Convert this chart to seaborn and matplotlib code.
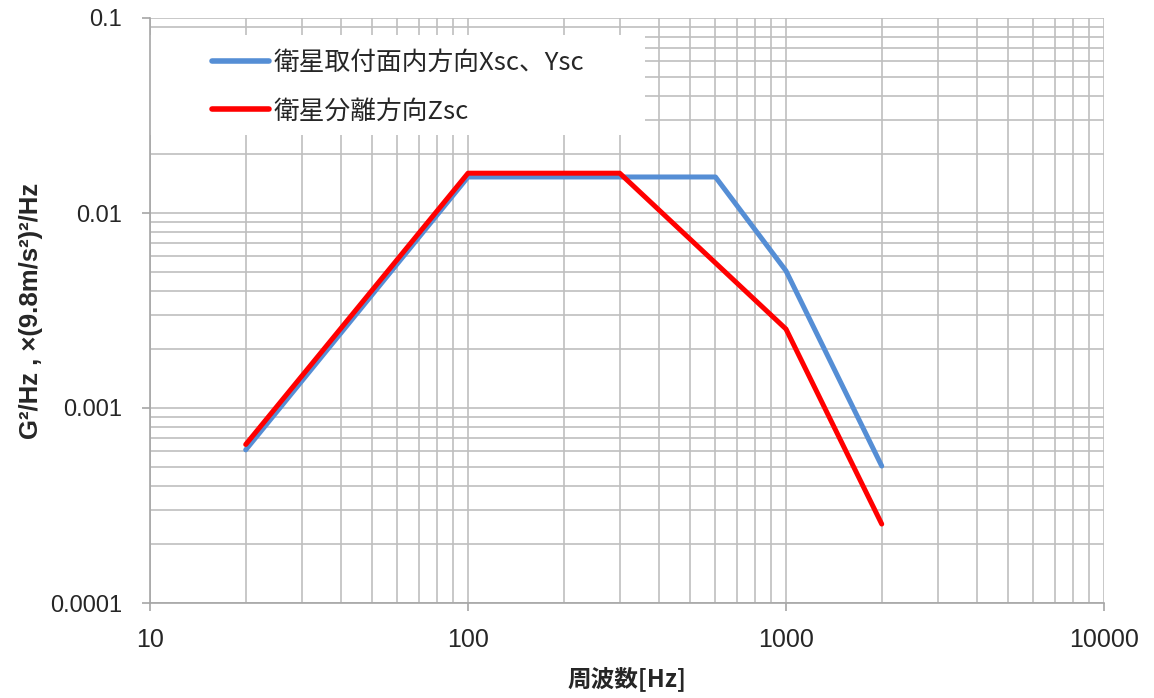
import numpy as np
import pandas as pd
import matplotlib
matplotlib.use("Agg")
import matplotlib.pyplot as plt
import seaborn as sns
from matplotlib.patches import Rectangle
from matplotlib.ticker import LogLocator, FixedLocator, NullFormatter

# data
freq_xy = [20, 100, 600, 1000, 2000]
psd_xy = [0.00061, 0.0153, 0.0153, 0.00505, 0.000504]
freq_z = [20, 100, 300, 1000, 2000]
psd_z = [0.00065, 0.016, 0.016, 0.00254, 0.000254]
series_names = ["衛星取付面内方向Xsc、Ysc", "衛星分離方向Zsc"]
colors = ["#558ED5", "#FF0000"]
x_ticks = [10, 100, 1000, 10000]
x_labels = ["10", "100", "1000", "10000"]
y_ticks = [0.0001, 0.001, 0.01, 0.1]
y_labels = ["0.0001", "0.001", "0.01", "0.1"]

df = pd.concat([
    pd.DataFrame({"freq": freq_xy, "psd": psd_xy, "series": series_names[0]}),
    pd.DataFrame({"freq": freq_z, "psd": psd_z, "series": series_names[1]}),
])

sns.set_style("white")
plt.rcParams["font.family"] = ["Noto Sans CJK JP", "DejaVu Sans"]

W, H = 1154, 698
fig = plt.figure(figsize=(W / 100, H / 100), dpi=100)
# plot area in pixels: x 150..1104, y 18..603
ax = fig.add_axes([150 / W, 95 / H, 954 / W, 585 / H])

sns.lineplot(data=df, x="freq", y="psd", hue="series", palette=colors,
             linewidth=3.6, ax=ax, sort=False, estimator=None, legend=True)

ax.set_xscale("log")
ax.set_yscale("log")
ax.set_xlim(10, 10000)
ax.set_ylim(0.0001, 0.1)

ax.xaxis.set_major_locator(FixedLocator(x_ticks))
ax.yaxis.set_major_locator(FixedLocator(y_ticks))
ax.set_xticklabels(x_labels, fontsize=18, family=["Liberation Sans Narrow", "Liberation Sans"])
ax.set_yticklabels(y_labels, fontsize=17, family=["Liberation Sans"])
ax.xaxis.set_minor_locator(LogLocator(base=10, subs=np.arange(2, 10)))
ax.yaxis.set_minor_locator(LogLocator(base=10, subs=np.arange(2, 10)))
ax.xaxis.set_minor_formatter(NullFormatter())
ax.yaxis.set_minor_formatter(NullFormatter())

ax.grid(True, which="both", color="#BFBFBF", linewidth=1.2)
ax.set_axisbelow(True)
ax.tick_params(which="major", direction="out", length=6, width=1.2, color="#A6A6A6",
               bottom=True, left=True)
ax.tick_params(axis="x", which="major", pad=12)
ax.tick_params(axis="y", which="major", pad=14)
ax.tick_params(which="minor", length=0)

for side in ["top", "right"]:
    ax.spines[side].set_visible(False)
for side in ["left", "bottom"]:
    ax.spines[side].set_color("#A6A6A6")
    ax.spines[side].set_linewidth(1.2)

ax.set_xlabel("周波数[Hz]", fontsize=17, fontweight="bold", labelpad=10)
ax.set_ylabel("G²/Hz , ×(9.8m/s²)²/Hz", fontsize=18.5, fontweight="bold",
              family=["Liberation Sans"], labelpad=5)

# white legend background box (x 150..645, y 35..135 px)
ax.add_patch(Rectangle((0, 1 - (135 - 18) / 585), 495 / 954, 100 / 585,
                       transform=ax.transAxes, facecolor="white",
                       edgecolor="none", zorder=1.5))

leg = ax.legend(loc="upper left",
                bbox_to_anchor=((212 - 150) / 954, 1 - (50 - 18) / 585),
                frameon=False, fontsize=18.5, handlelength=2.2,
                handletextpad=0.2, labelspacing=0.87, borderpad=0.0,
                borderaxespad=0.0)
for line in leg.get_lines():
    line.set_linewidth(4)

fig.savefig("out.png", dpi=100)
